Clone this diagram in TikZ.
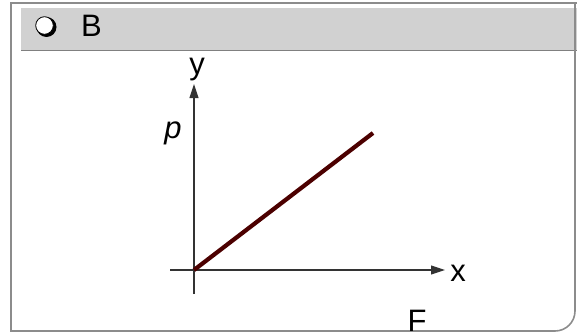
\documentclass[tikz,border=0pt]{standalone}
\usepackage{fontspec}
\setmainfont{Liberation Sans}
\usetikzlibrary{arrows.meta}

\begin{document}
\begin{tikzpicture}[
  x=1pt, y=-1pt,
  font=\fontsize{31}{34}\selectfont,
  panel/.style={draw=black!45, line width=1.6pt},
  band/.style={fill=black!18},
  axis/.style={draw=black!80, line width=1.1pt, -{Triangle[length=14pt, width=9pt]}},
  graph/.style={draw=red!30!black, line width=4.2pt},
  lbl/.style={inner sep=0pt}
]
  \useasboundingbox (0,0) rectangle (577,334);
  % header
  \fill[band] (21,8) rectangle (577,51);
  \draw[black!50, line width=1pt] (21,51) -- (577,51);
  \draw[panel] (577,3) -- (11,3) -- (11,331) [rounded corners=20pt] -- (575,331) -- (575,3);
  \fill[black] (46.5,27) circle (10);
  \draw[black, fill=white, line width=0.8pt] (44.5,25.5) circle (8.8);
  \node[lbl, anchor=west] (title) at (81,26) {B};
  % axes
  \coordinate (o) at (194,270);
  \coordinate (xs) at (170,270);
  \coordinate (xe) at (445,270);
  \coordinate (ys) at (194,294);
  \coordinate (ye) at (194,84);
  \coordinate (top) at (373,133);
  \draw[axis] (xs) -- (xe);
  \draw[axis] (ys) -- (ye);
  \draw[graph] (o) -- (top);
  \node[lbl] (ylbl) at (197,70) {y};
  \node[lbl] (plbl) at (173,133) {\itshape p};
  \node[lbl] (xlbl) at (458,273) {x};
  \node[lbl] (flbl) at (417,321) {F};
\end{tikzpicture}
\end{document}
